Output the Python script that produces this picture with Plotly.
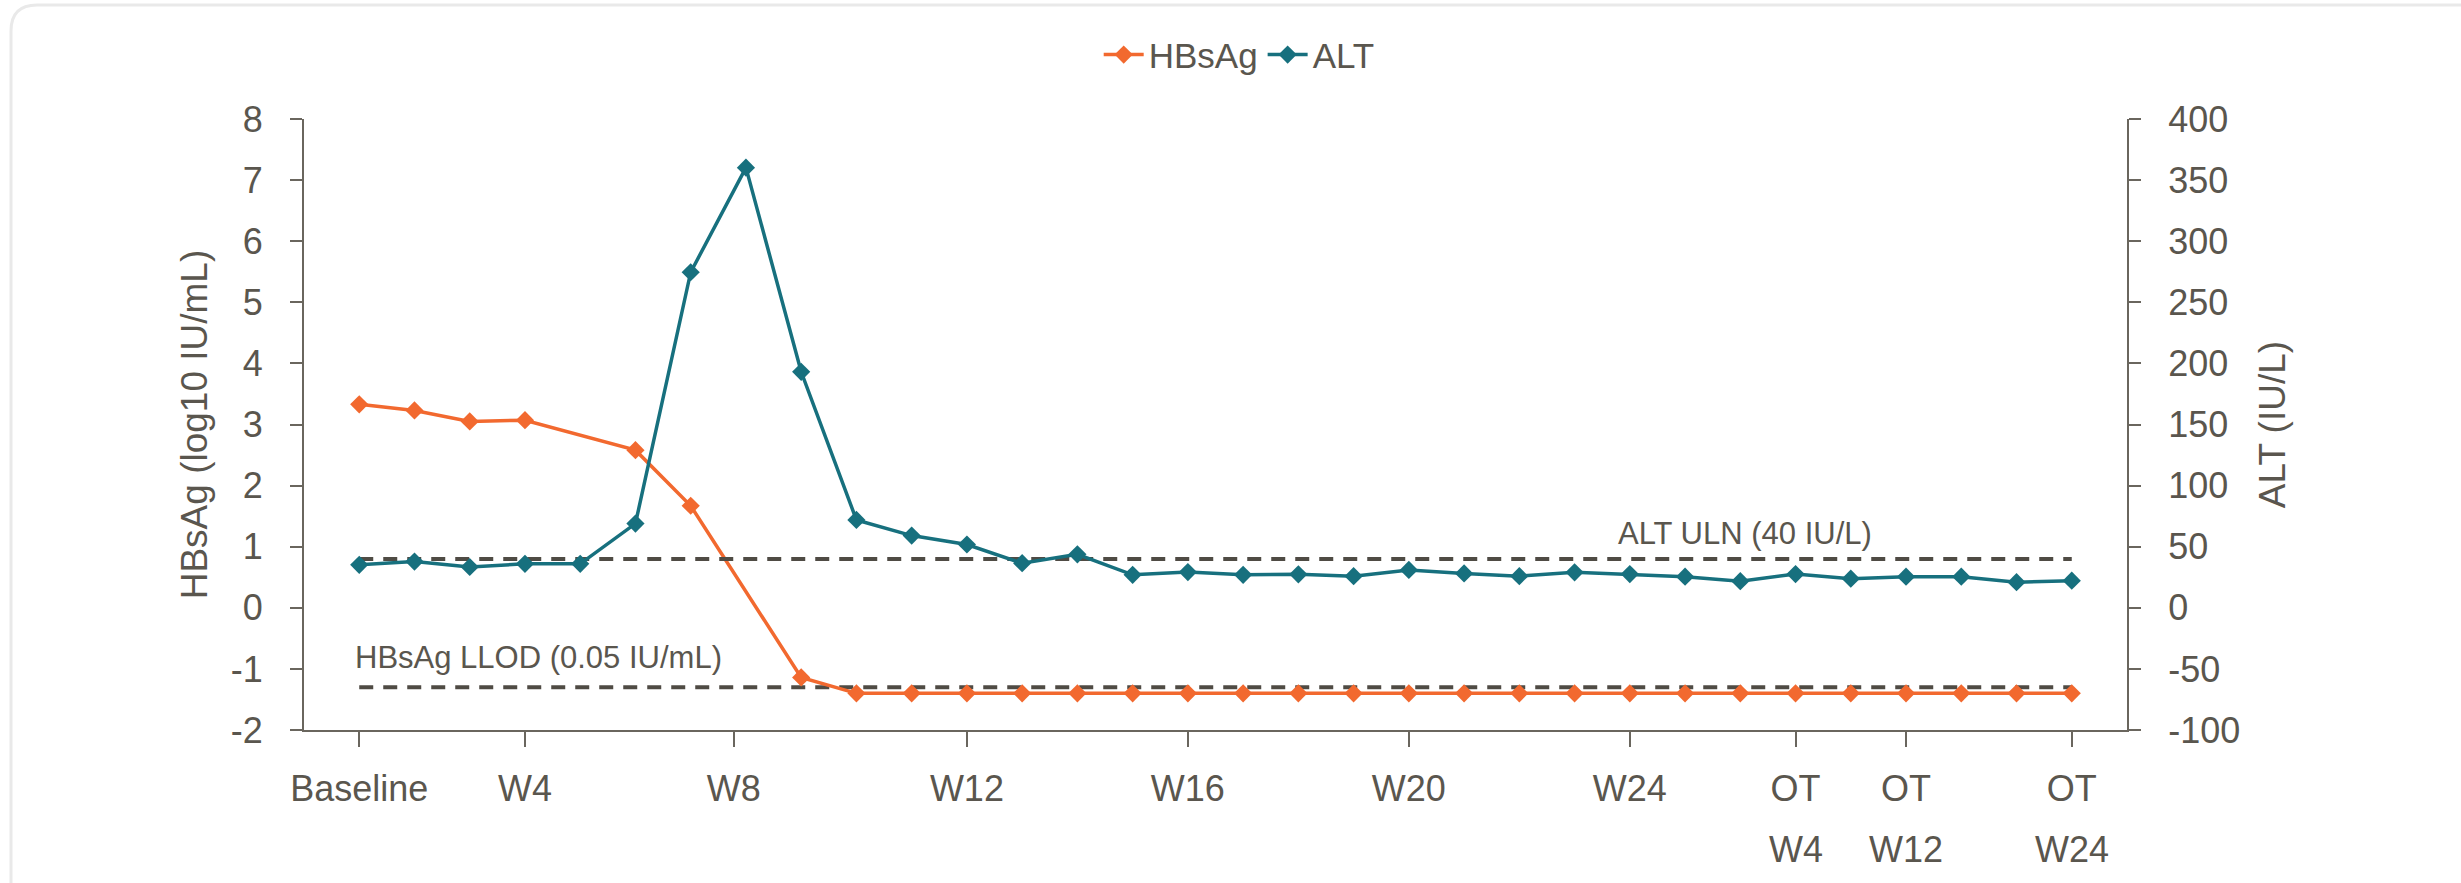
import plotly.graph_objects as go

# ---- data ----
visit_index = list(range(32))  # evenly spaced visits (Baseline ... OT W24)
hbsag = [3.33, 3.23, 3.05, 3.07, None, 2.58, 1.67, None, -1.14,
         -1.40, -1.40, -1.40, -1.40, -1.40, -1.40, -1.40, -1.40, -1.40, -1.40,
         -1.40, -1.40, -1.40, -1.40, -1.40, -1.40, -1.40, -1.40, -1.40, -1.40,
         -1.40, -1.40, -1.40]
alt = [35.2, 37.8, 33.4, 36.0, 36.0, 68.9, 274.6, 360.2, 193.1,
       71.9, 59.1, 51.8, 36.5, 43.8, 27.0, 29.2, 27.0, 27.4, 25.9,
       31.0, 28.1, 25.9, 29.0, 27.6, 25.5, 21.8, 27.6, 23.8, 25.5,
       25.5, 21.0, 22.2]
tick_vals = [0, 3, 6.78, 11, 15, 19, 23, 26, 28, 31]
tick_text = ["Baseline", "W4", "W8", "W12", "W16", "W20", "W24", "OT", "OT", "OT"]
ot_vals = [26, 28, 31]
ot_text = ["W4", "W12", "W24"]
y1_ticks = [-2, -1, 0, 1, 2, 3, 4, 5, 6, 7, 8]
y2_ticks = [-100, -50, 0, 50, 100, 150, 200, 250, 300, 350, 400]
alt_uln = 40
hbsag_llod = -1.30
uln_label = "ALT ULN (40 IU/L)"
llod_label = "HBsAg LLOD (0.05 IU/mL)"

# ---- style ----
W, H = 2461, 883
L, R, T, B = 304, 334, 119, 153
ORANGE = "#F2692F"
TEAL = "#17707E"
TXT = "#5a564e"
AXC = "#6a665e"
DASH = "#4f4b44"
FONT = "Liberation Sans, Arial, sans-serif"

fig = go.Figure()

# reference lines
fig.add_trace(go.Scatter(x=[visit_index[0], visit_index[-1]], y=[alt_uln, alt_uln],
                         yaxis="y2", mode="lines", showlegend=False, hoverinfo="skip",
                         line=dict(color=DASH, width=4, dash="14px,10px")))
fig.add_trace(go.Scatter(x=[visit_index[0], visit_index[-1]], y=[hbsag_llod, hbsag_llod],
                         mode="lines", showlegend=False, hoverinfo="skip",
                         line=dict(color=DASH, width=4, dash="14px,10px")))

fig.add_trace(go.Scatter(x=visit_index, y=hbsag, name="HBsAg", mode="lines+markers",
                         connectgaps=True,
                         line=dict(color=ORANGE, width=3.5),
                         marker=dict(symbol="diamond", size=14, color=ORANGE)))
fig.add_trace(go.Scatter(x=visit_index, y=alt, name="ALT", mode="lines+markers",
                         yaxis="y2",
                         line=dict(color=TEAL, width=3.5),
                         marker=dict(symbol="diamond", size=14, color=TEAL)))

# labels for reference lines
fig.add_annotation(x=visit_index[0], y=hbsag_llod, xref="x", yref="y", text=llod_label,
                   showarrow=False, xanchor="left", yanchor="bottom", yshift=10, xshift=-6,
                   font=dict(family=FONT, size=31, color=TXT))
fig.add_annotation(x=22.75, y=alt_uln, xref="x", yref="y2", text=uln_label,
                   showarrow=False, xanchor="left", yanchor="bottom", yshift=6,
                   font=dict(family=FONT, size=31, color=TXT))

# second line of OT tick labels
for v, t in zip(ot_vals, ot_text):
    fig.add_annotation(x=v, y=-0.195, xref="x", yref="paper", text=t, showarrow=False,
                       xanchor="center", yanchor="middle",
                       font=dict(family=FONT, size=36, color=TXT))

# card border (rounded top-left corner)
def px(xp):
    return (xp - L) / (W - L - R)

def py(yp):
    return (H - B - yp) / (H - T - B)

r = 26
path = (f"M {px(11)},{py(H + 10)} L {px(11)},{py(5 + r)} "
        f"Q {px(11)},{py(5)} {px(11 + r)},{py(5)} L {px(W + 10)},{py(5)}")
fig.add_shape(type="path", path=path, xref="paper", yref="paper",
              line=dict(color="#e9e9e9", width=3), layer="below")

fig.update_layout(
    width=W, height=H,
    margin=dict(l=L, r=R, t=T, b=B, autoexpand=False),
    paper_bgcolor="white", plot_bgcolor="white",
    font=dict(family=FONT, size=36, color=TXT),
    showlegend=True,
    legend=dict(orientation="h", x=0.513, xanchor="center", y=1.105, yanchor="middle",
                font=dict(family=FONT, size=35, color=TXT), itemwidth=40,
                bgcolor="rgba(0,0,0,0)", tracegroupgap=0),
    xaxis=dict(range=[-1, 32], tickmode="array", tickvals=tick_vals, ticktext=tick_text,
               showgrid=False, zeroline=False, showline=True, linecolor=AXC, linewidth=2,
               ticks="outside", ticklen=15, tickwidth=2, tickcolor=AXC,
               ticklabelstandoff=11, tickfont=dict(family=FONT, size=36, color=TXT)),
    yaxis=dict(range=[-2, 8], tickmode="array", tickvals=y1_ticks,
               ticktext=[str(v) for v in y1_ticks],
               showgrid=False, zeroline=False,
               showline=True, linecolor=AXC, linewidth=2,
               ticks="outside", ticklen=12, tickwidth=2, tickcolor=AXC,
               ticklabelstandoff=20, tickfont=dict(family=FONT, size=36, color=TXT),
               title=dict(text="HBsAg (log10 IU/mL)", standoff=12,
                          font=dict(family=FONT, size=37, color=TXT))),
    yaxis2=dict(range=[-100, 400], tickmode="array", tickvals=y2_ticks,
                ticktext=[str(v) for v in y2_ticks],
                overlaying="y", side="right",
                showgrid=False, zeroline=False, showline=True, linecolor=AXC, linewidth=2,
                ticks="outside", ticklen=12, tickwidth=2, tickcolor=AXC,
                ticklabelstandoff=20, tickfont=dict(family=FONT, size=36, color=TXT),
                title=dict(text="ALT (IU/L)", standoff=20,
                           font=dict(family=FONT, size=37, color=TXT))),
)

fig.write_html("out.html")
